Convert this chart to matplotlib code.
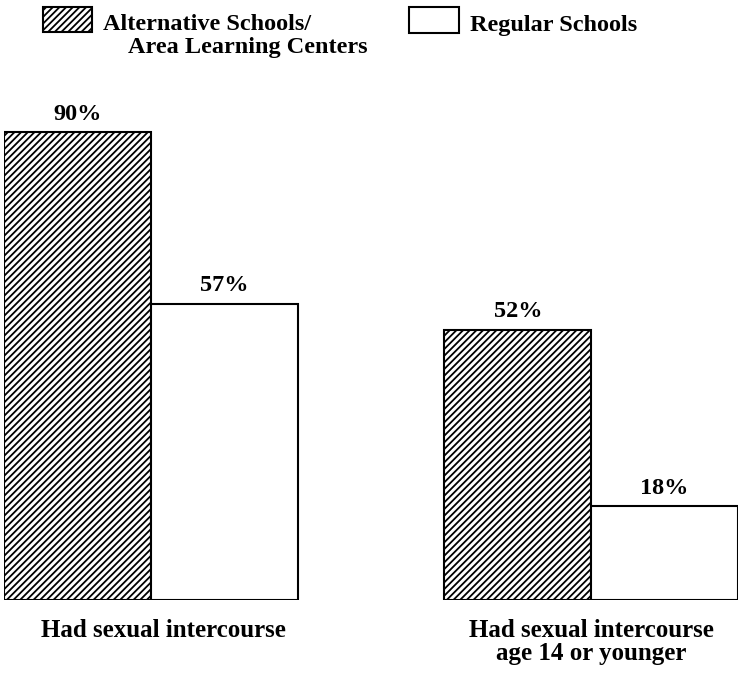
import numpy as np
import matplotlib.pyplot as plt
from matplotlib.patches import Rectangle
from matplotlib.transforms import ScaledTranslation

# Données
categories = ["Had sexual intercourse", "Had sexual intercourse\nage 14 or younger"]
alternative = [90, 52]
regular = [57, 18]
series_names = ["Alternative Schools/", "Area Learning Centers", "Regular Schools"]

plt.rcParams['font.family'] = ['Liberation Serif', 'DejaVu Serif']
plt.rcParams['font.weight'] = 'bold'
plt.rcParams['hatch.linewidth'] = 1.3

fig = plt.figure(figsize=(7.39, 6.74), dpi=100)
ax = fig.add_axes([4/739, 74/674, 734/739, 520/674])

x = np.array([0, 3])
b1 = ax.bar(x - 0.5, alternative, width=1, color='white', edgecolor='black',
            linewidth=1.5, hatch='/////')
b2 = ax.bar(x + 0.5, regular, width=1, color='white', edgecolor='black',
            linewidth=1.5)

for bars, vals in [(b1, alternative), (b2, regular)]:
    for rect, v in zip(bars, vals):
        ax.annotate(f"{v}%", (rect.get_x() + rect.get_width()/2, v),
                    xytext=(0, 9), textcoords='offset points',
                    ha='center', va='baseline', fontsize=17.5, fontweight='bold')

ax.set_xlim(-1, 4)
ax.set_ylim(0, 100)
ax.set_xticks(x)
ax.set_xticklabels(categories, fontsize=18, fontweight='bold', linespacing=1.0)
ax.tick_params(axis='x', length=0, pad=14)
ax.set_yticks([])
for s in ax.spines.values():
    s.set_visible(False)

# le premier libellé est un peu décalé à droite dans l'original
lab = ax.get_xticklabels()[0]
lab.set_transform(lab.get_transform() + ScaledTranslation(0.13, 0, fig.dpi_scale_trans))

# Légende dessinée à la main
fig.patches.append(Rectangle((43/739, 1 - 32/674), 49/739, 25/674,
                             transform=fig.transFigure, facecolor='white',
                             edgecolor='black', linewidth=1.5, hatch='/////'))
fig.patches.append(Rectangle((409/739, 1 - 33/674), 50/739, 26/674,
                             transform=fig.transFigure, facecolor='white',
                             edgecolor='black', linewidth=1.5))
fig.text(103/739, 1 - 30/674, series_names[0], fontsize=17.5, fontweight='bold',
         va='baseline', ha='left')
fig.text(128/739, 1 - 53/674, series_names[1], fontsize=17.5, fontweight='bold',
         va='baseline', ha='left')
fig.text(470/739, 1 - 31/674, series_names[2], fontsize=17.5, fontweight='bold',
         va='baseline', ha='left')

plt.savefig('out.png', dpi=100)
